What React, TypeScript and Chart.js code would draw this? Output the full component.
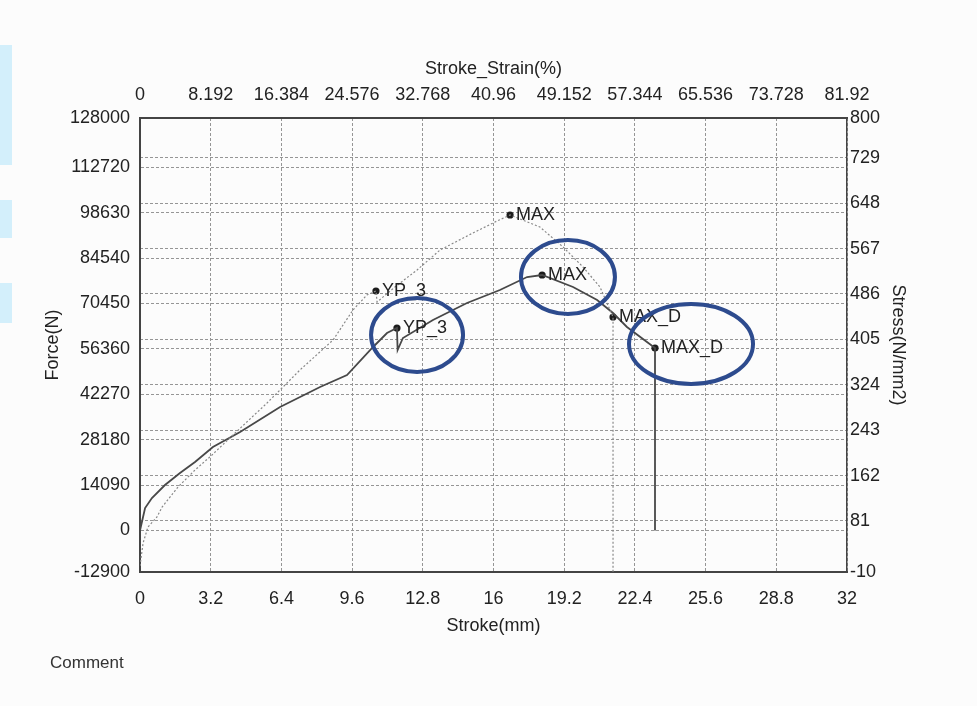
import { useEffect, useRef } from "react";
import { Chart, registerables } from "chart.js";

Chart.register(...registerables);

// ---- data ----
const strokeDark = [0, 0.23, 0.54, 1.13, 1.81, 2.49, 3.3, 4.53, 6.34, 8.15, 9.37, 10.55, 11.18, 11.63, 11.66, 11.9, 13.26, 14.8, 16.29, 17.52, 18.2, 19.6, 20.69, 21.41, 22.04, 23.31, 23.31];
const forceDark = [0, 6960, 10070, 14100, 17830, 21240, 25890, 30550, 38310, 44520, 48240, 56930, 61270, 62830, 56000, 59720, 65310, 70580, 74620, 78650, 79270, 75550, 71520, 67480, 63140, 56620, 0];

const strokeLight = [0, 0.14, 0.36, 0.77, 1.0, 1.72, 2.49, 3.26, 4.21, 5.75, 7.24, 8.74, 9.64, 10.27, 10.68, 10.73, 11.54, 12.54, 13.58, 15.07, 16.16, 16.75, 18.1, 19.15, 20.05, 20.82, 21.41, 21.41];
const forceLight = [-11000, -3900, 1070, 4170, 7270, 13480, 18760, 23410, 29620, 39550, 49790, 59100, 68410, 73070, 74310, 70900, 75550, 80830, 87030, 92310, 96030, 97900, 94170, 87960, 81760, 75550, 66240, -12900];

const markerLabels = ["YP_3", "YP_3", "MAX", "MAX", "MAX_D", "MAX_D"];
const markerStroke = [10.68, 11.63, 16.75, 18.2, 21.41, 23.31];
const markerForce = [74310, 62830, 97900, 79270, 66240, 56620];

const forceTicks = [-12900, 0, 14090, 28180, 42270, 56360, 70450, 84540, 98630, 112720, 128000];
const stressTicks = [-10, 81, 162, 243, 324, 405, 486, 567, 648, 729, 800];
const strokeTicks = [0, 3.2, 6.4, 9.6, 12.8, 16, 19.2, 22.4, 25.6, 28.8, 32];
const strokeTickLabels = ["0", "3.2", "6.4", "9.6", "12.8", "16", "19.2", "22.4", "25.6", "28.8", "32"];
const strainTicks = [0, 8.192, 16.384, 24.576, 32.768, 40.96, 49.152, 57.344, 65.536, 73.728, 81.92];
const strainTickLabels = ["0", "8.192", "16.384", "24.576", "32.768", "40.96", "49.152", "57.344", "65.536", "73.728", "81.92"];

// highlight ellipses (centre in data units)
const circleStroke = [12.54, 19.37, 24.94];
const circleForce = [60650, 78650, 57860];
const circleRx = [46, 47, 62];
const circleRy = [37, 37, 40];

const FONT = '"Liberation Sans", Arial, Helvetica, sans-serif';
const TEXT = "#222222";
const GRID = "#959595";
const BORDER = "#444444";

const annotPlugin = {
  id: "annot",
  afterDatasetsDraw(chart: any) {
    const { ctx, scales } = chart;
    const meta = chart.getDatasetMeta(2);
    ctx.save();
    ctx.font = `18px ${FONT}`;
    ctx.fillStyle = TEXT;
    ctx.textBaseline = "middle";
    ctx.textAlign = "left";
    meta.data.forEach((pt: any, i: number) => {
      ctx.fillText(markerLabels[i], pt.x + 6, pt.y);
    });
    ctx.strokeStyle = "#2d4b8e";
    ctx.lineWidth = 4;
    circleStroke.forEach((s, i) => {
      const cx = scales.x.getPixelForValue(s);
      const cy = scales.y.getPixelForValue(circleForce[i]);
      ctx.beginPath();
      ctx.ellipse(cx, cy, circleRx[i], circleRy[i], 0, 0, Math.PI * 2);
      ctx.stroke();
    });
    ctx.restore();
  },
};

const bg = {
  id: "bg",
  beforeDraw(chart: any) {
    const { ctx, width, height } = chart;
    ctx.save();
    ctx.fillStyle = "#fcfcfc";
    ctx.fillRect(0, 0, width, height);
    ctx.restore();
  },
};

export default function App() {
  const ref = useRef<HTMLCanvasElement>(null);
  useEffect(() => {
    if (!ref.current) return;
    const tickFont = { family: FONT, size: 18 };
    const titleFont = { family: FONT, size: 18 };
    const chart = new Chart(ref.current, {
      type: "scatter",
      data: {
        datasets: [
          {
            label: "light",
            data: strokeLight.map((x, i) => ({ x, y: forceLight[i] })),
            showLine: true,
            borderColor: "#888888",
            borderWidth: 1.2,
            borderDash: [2, 2],
            pointRadius: 0,
            xAxisID: "x",
            yAxisID: "y",
          },
          {
            label: "dark",
            data: strokeDark.map((x, i) => ({ x, y: forceDark[i] })),
            showLine: true,
            borderColor: "#484848",
            borderWidth: 1.8,
            pointRadius: 0,
            xAxisID: "x",
            yAxisID: "y",
          },
          {
            label: "markers",
            data: markerStroke.map((x, i) => ({ x, y: markerForce[i] })),
            showLine: false,
            pointRadius: 3.6,
            backgroundColor: "#1c1c1c",
            borderWidth: 0,
            xAxisID: "x",
            yAxisID: "y",
          },
        ],
      },
      options: {
        responsive: false,
        animation: false,
        layout: { padding: 0 },
        plugins: { legend: { display: false }, tooltip: { enabled: false } },
        scales: {
          x: {
            type: "linear",
            position: "bottom",
            min: 0,
            max: 32,
            afterBuildTicks: (s: any) => { s.ticks = strokeTicks.map((v) => ({ value: v })); },
            afterFit: (s: any) => { s.height = 134; },
            ticks: { autoSkip: false, maxRotation: 0, padding: 16, color: TEXT, font: tickFont, callback: (_v: any, i: number) => strokeTickLabels[i] },
            grid: { color: GRID, lineWidth: 1, drawTicks: false },
            border: { display: true, color: BORDER, width: 2, dash: [3, 2] },
            title: { display: true, text: "Stroke(mm)", color: TEXT, font: titleFont, padding: { top: 0, bottom: 69 } },
          },
          xTop: {
            type: "linear",
            axis: "x",
            position: "top",
            min: 0,
            max: 81.92,
            afterBuildTicks: (s: any) => { s.ticks = strainTicks.map((v) => ({ value: v })); },
            afterFit: (s: any) => { s.height = 118; },
            ticks: { autoSkip: false, maxRotation: 0, padding: 12, color: TEXT, font: tickFont, callback: (_v: any, i: number) => strainTickLabels[i] },
            grid: { display: false, drawTicks: false },
            border: { display: true, color: BORDER, width: 2 },
            title: { display: true, text: "Stroke_Strain(%)", color: TEXT, font: titleFont, padding: { top: 58, bottom: 0 } },
          },
          y: {
            type: "linear",
            position: "left",
            min: -12900,
            max: 128000,
            afterBuildTicks: (s: any) => { s.ticks = forceTicks.map((v) => ({ value: v })); },
            afterFit: (s: any) => { s.width = 140; },
            ticks: { autoSkip: false, padding: 10, color: TEXT, font: tickFont, callback: (v: any) => String(v) },
            grid: { color: GRID, lineWidth: 1, drawTicks: false },
            border: { display: true, color: BORDER, width: 2, dash: [3, 2] },
            title: { display: true, text: "Force(N)", color: TEXT, font: titleFont, padding: { top: 42, bottom: 0 } },
          },
          yRight: {
            type: "linear",
            axis: "y",
            position: "right",
            min: -10,
            max: 800,
            afterBuildTicks: (s: any) => { s.ticks = stressTicks.map((v) => ({ value: v })); },
            afterFit: (s: any) => { s.width = 130; },
            ticks: { autoSkip: false, padding: 3, color: TEXT, font: tickFont, callback: (v: any) => String(v) },
            grid: { color: GRID, lineWidth: 1, drawTicks: false },
            border: { display: true, color: BORDER, width: 1.5, dash: [3, 2] },
            title: { display: true, text: "Stress(N/mm2)", color: TEXT, font: titleFont, padding: { top: 68, bottom: 0 } },
          },
        },
      },
      plugins: [bg, annotPlugin],
    } as any);
    return () => chart.destroy();
  }, []);

  const strip = (top: number, h: number) => ({
    position: "absolute" as const, left: 0, top, width: 12, height: h, background: "#d3effb",
  });

  return (
    <div style={{ position: "fixed", left: 0, top: 0, width: 977, height: 706, background: "#fcfcfc" }}>
      <canvas ref={ref} width={977} height={706} style={{ position: "absolute", left: 0, top: 0 }} />
      <div style={strip(45, 120)} />
      <div style={strip(200, 38)} />
      <div style={strip(283, 40)} />
      <div style={{ position: "absolute", left: 50, top: 653, fontFamily: FONT, fontSize: 17, color: "#333333" }}>Comment</div>
    </div>
  );
}
